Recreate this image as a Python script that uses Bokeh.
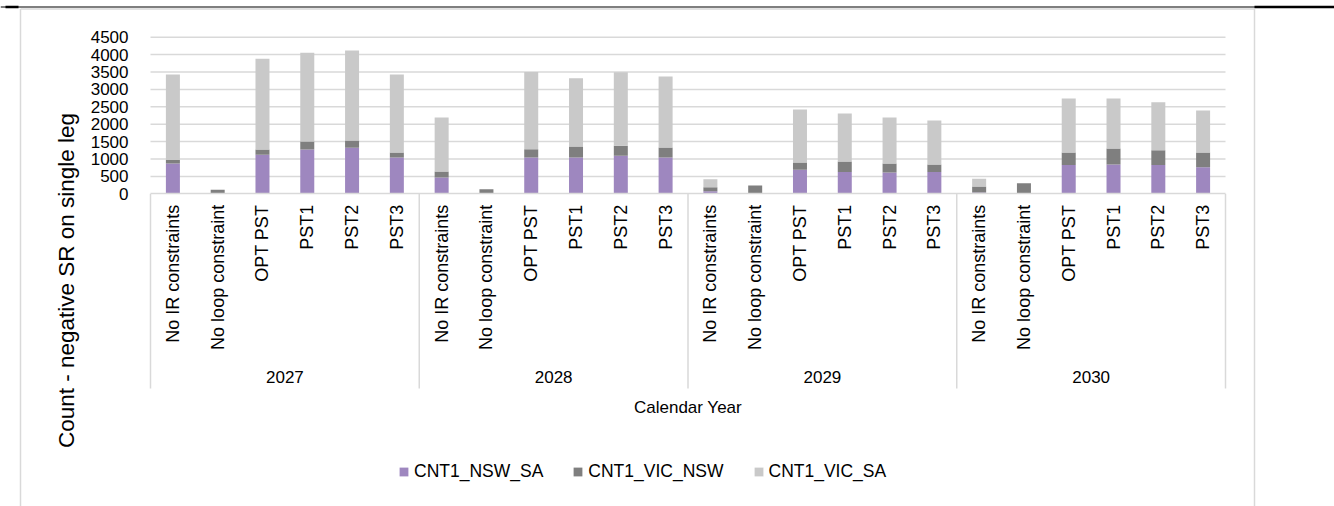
import math
from bokeh.plotting import figure
from bokeh.models import (ColumnDataSource, LinearAxis, FixedTicker, Legend, LegendItem, Range1d)
from bokeh.core.properties import value
from bokeh.embed import file_html
from bokeh.resources import INLINE

# ---------------- data ----------------
years = ["2027", "2028", "2029", "2030"]
scenarios = ["No IR constraints", "No loop constraint", "OPT PST", "PST1", "PST2", "PST3"]
series_names = ["CNT1_NSW_SA", "CNT1_VIC_NSW", "CNT1_VIC_SA"]
cnt1_nsw_sa = [870, 0, 1120, 1270, 1320, 1040,
               470, 0, 1040, 1040, 1090, 1040,
               70, 0, 690, 630, 610, 630,
               40, 0, 830, 840, 830, 760]
cnt1_vic_nsw = [100, 115, 150, 230, 210, 150,
                170, 130, 240, 320, 290, 290,
                115, 240, 210, 300, 260, 210,
                170, 305, 355, 460, 420, 430]
cnt1_vic_sa = [2460, 0, 2610, 2550, 2590, 2240,
               1550, 0, 2220, 1960, 2110, 2040,
               230, 0, 1520, 1380, 1320, 1265,
               220, 0, 1550, 1440, 1380, 1205]
y_ticks = [0, 500, 1000, 1500, 2000, 2500, 3000, 3500, 4000, 4500]
y_title = "Count - negative SR on single leg"
x_title = "Calendar Year"
colors = ["#9e87bf", "#7f7f7f", "#c9c9c9"]

# ---------------- layout (page pixels) ----------------
FONT = "Liberation Sans Narrow, Arial Narrow, Liberation Sans, Arial, sans-serif"
ORG_X, ORG_Y = 0, 0          # where the figure lands on the page
W, H = 1334, 506
PLOT_L, PLOT_R = 150.0, 1225.0
Y0_PX, YMAX_PX = 193.3, 36.7
n_cat = len(years) * len(scenarios)
px_per_slot = (PLOT_R - PLOT_L) / n_cat
px_per_unit = (Y0_PX - YMAX_PX) / 4500.0

def xd(px):
    return (px - PLOT_L) / px_per_slot

def yd(py):
    return (Y0_PX - py) / px_per_unit

p = figure(width=W, height=H, output_backend="svg", toolbar_location=None,
           x_range=Range1d(xd(ORG_X), xd(ORG_X + W)), y_range=Range1d(yd(ORG_Y + H), yd(ORG_Y)),
           x_axis_location=None, y_axis_location=None, min_border=0)
p.xgrid.visible = False
p.ygrid.visible = False
p.outline_line_color = None
p.background_fill_color = "white"
p.border_fill_color = "white"

# outer chart border + top rule
p.segment(x0=[xd(20), xd(1254)], y0=[yd(8.5), yd(8.5)], x1=[xd(20), xd(1254)], y1=[yd(520), yd(520)],
          line_color="#d9d9d9", line_width=1.5)
p.segment(x0=[xd(20)], y0=[yd(8.5)], x1=[xd(1254)], y1=[yd(8.5)], line_color="#d9d9d9", line_width=1.5)
p.segment(x0=[xd(0)], y0=[yd(6.5)], x1=[xd(1334)], y1=[yd(6.5)], line_color="black", line_width=1.2)
p.segment(x0=[xd(1254), xd(5)], y0=[yd(6.5), yd(6.5)], x1=[xd(1334), xd(18)], y1=[yd(6.5), yd(6.5)],
          line_color="black", line_width=2.5)

# gridlines
grid_y = [t for t in y_ticks if t > 0]
p.segment(x0=[0] * len(grid_y), y0=grid_y, x1=[n_cat] * len(grid_y), y1=grid_y,
          line_color="#d9d9d9", line_width=1.5)

# group separators of the category table
seps = [g * len(scenarios) for g in range(len(years) + 1)]
p.segment(x0=seps, y0=[0] * len(seps), x1=seps, y1=[yd(388)] * len(seps),
          line_color="#d9d9d9", line_width=1.5)

# bars
xs = [i + 0.5 for i in range(n_cat)]
src = ColumnDataSource(dict(x=xs, nsw_sa=cnt1_nsw_sa, vic_nsw=cnt1_vic_nsw, vic_sa=cnt1_vic_sa))
rs = p.vbar_stack(["nsw_sa", "vic_nsw", "vic_sa"], x="x", width=14 / px_per_slot, source=src,
                  color=colors, line_color=None)

# y axis
yaxis = LinearAxis(fixed_location=0, ticker=FixedTicker(ticks=y_ticks), bounds=(0, 4500))
yaxis.axis_line_color = None
yaxis.major_tick_line_color = None
yaxis.minor_tick_line_color = None
yaxis.major_tick_out = 0
yaxis.major_tick_in = 0
yaxis.major_label_standoff = 22
yaxis.major_label_text_font = FONT
yaxis.major_label_text_font_size = "17px"
yaxis.major_label_text_color = "black"
p.add_layout(yaxis, "left")

# x axis (scenario labels)
xaxis = LinearAxis(fixed_location=0, ticker=FixedTicker(ticks=xs), bounds=(0, n_cat))
xaxis.major_label_overrides = {x: scenarios[i % len(scenarios)] for i, x in enumerate(xs)}
xaxis.major_label_orientation = math.pi / 2
xaxis.axis_line_color = "#d9d9d9"
xaxis.axis_line_width = 1.5
xaxis.major_tick_line_color = None
xaxis.minor_tick_line_color = None
xaxis.major_tick_out = 0
xaxis.major_tick_in = 0
xaxis.major_label_standoff = 11
xaxis.major_label_text_font = FONT
xaxis.major_label_text_font_size = "18px"
xaxis.major_label_text_color = "black"
p.add_layout(xaxis, "below")

# year labels
year_x = [g * len(scenarios) + len(scenarios) / 2 for g in range(len(years))]
p.text(x=year_x, y=[yd(376)] * len(years), text=years, text_font=value(FONT),
       text_font_size="17px", text_align="center", text_baseline="middle", text_color="black")

# axis titles
p.text(x=[n_cat / 2], y=[yd(407)], text=[x_title], text_font=value(FONT), text_font_size="17px",
       text_align="center", text_baseline="middle", text_color="black")
p.text(x=[xd(66)], y=[yd(280)], text=[y_title], angle=math.pi / 2, text_font=value(FONT),
       text_font_size="22.5px", text_align="center", text_baseline="middle", text_color="black")

# legend
legend = Legend(items=[LegendItem(label=series_names[i], renderers=[rs[i]]) for i in range(3)],
                orientation="horizontal", location=(398 - ORG_X, ORG_Y + H - 482))
legend.glyph_width = 11
legend.glyph_height = 11
legend.label_standoff = 5
legend.spacing = 29
legend.padding = 0
legend.margin = 0
legend.border_line_color = None
legend.background_fill_alpha = 0
legend.label_text_font = FONT
legend.label_text_font_size = "17.5px"
legend.label_text_color = "black"
p.add_layout(legend)

open("out.html", "w").write(file_html(p, INLINE))
